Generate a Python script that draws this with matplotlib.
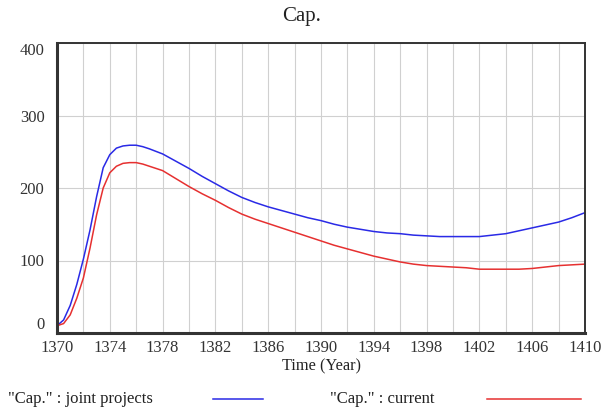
import matplotlib
matplotlib.use("Agg")
import matplotlib.pyplot as plt
from matplotlib.lines import Line2D

# ---- data ----
time = [1370, 1370.5, 1371, 1371.5, 1372, 1372.5, 1373, 1373.5, 1374, 1374.5,
        1375, 1375.5, 1376, 1376.5, 1377, 1378, 1379, 1380, 1381, 1382, 1383,
        1384, 1385, 1386, 1387, 1388, 1389, 1390, 1391, 1392, 1393, 1394,
        1395, 1396, 1397, 1398, 1399, 1400, 1401, 1402, 1403, 1404, 1405,
        1406, 1407, 1408, 1409, 1410]
joint_projects = [10, 18, 38, 67, 102, 142, 188, 228, 246, 255,
                  258, 259, 259, 257, 254, 247, 237, 227, 216, 206, 196,
                  187, 180, 174, 169, 164, 159, 155, 150, 146, 143, 140,
                  138, 137, 135, 134, 133, 133, 133, 133, 135, 137, 141,
                  145, 149, 153, 159, 166]
current = [10, 13, 25, 48, 76, 117, 163, 200, 221, 230,
           234, 235, 235, 233, 230, 224, 213, 202, 192, 183, 173,
           164, 157, 151, 145, 139, 133, 127, 121, 116, 111, 106,
           102, 98, 95, 93, 92, 91, 90, 88, 88, 88, 88,
           89, 91, 93, 94, 95]
x_ticks = [1370, 1374, 1378, 1382, 1386, 1390, 1394, 1398, 1402, 1406, 1410]
x_grid = list(range(1370, 1411, 2))
y_ticks = [0, 100, 200, 300, 400]
title = "Cap."
x_label = "Time (Year)"
series_labels = ['"Cap." : joint projects', '"Cap." : current']
colors = ["#2a2ae6", "#e63030"]

plt.rcParams['font.family'] = ['Liberation Serif', 'DejaVu Serif']

W, H = 604, 409
fig = plt.figure(figsize=(W / 100, H / 100), dpi=100)
ax = fig.add_axes([57 / W, 1 - 333 / H, (585 - 57) / W, (333 - 43) / H])

ax.plot(time, joint_projects, color=colors[0], lw=1.1)
ax.plot(time, current, color=colors[1], lw=1.1)

ax.set_xlim(1370, 1410)
ax.set_ylim(0, 400)
ax.set_xticks(x_ticks)
ax.set_xticks(x_grid, minor=True)
ax.set_yticks(y_ticks)
ax.grid(True, which='both', axis='x', color='#d0d0d0', lw=0.8)
ax.grid(True, which='major', axis='y', color='#d0d0d0', lw=0.8)
ax.tick_params(which='both', length=0, labelsize=12, labelcolor='#333333')
ax.tick_params(axis='y', pad=9)
ax.tick_params(axis='x', pad=5)
ylabels = ax.get_yticklabels()
ylabels[0].set_verticalalignment('bottom')
ylabels[-1].set_verticalalignment('top')
for s in ax.spines.values():
    s.set_color('#333333')
    s.set_linewidth(1.4)
ax.spines['left'].set_linewidth(2.2)
ax.spines['bottom'].set_linewidth(2.2)

fig.text(0.5, 1 - 17 / H, title, fontsize=15, ha='center', va='center', color='#222222')
fig.text(321 / W, 1 - 366 / H, x_label, fontsize=11.8, ha='center', va='center', color='#222222')

# legend
ly = 1 - 399 / H
fig.text(8 / W, ly, series_labels[0], fontsize=12, va='center', ha='left', color='#222222')
fig.add_artist(Line2D([213 / W, 263 / W], [ly, ly],
                      color=colors[0], lw=1.1, transform=fig.transFigure))
fig.text(330 / W, ly, series_labels[1], fontsize=12, va='center', ha='left', color='#222222')
fig.add_artist(Line2D([487 / W, 581 / W], [ly, ly],
                      color=colors[1], lw=1.1, transform=fig.transFigure))

fig.savefig("out.png", dpi=100)
